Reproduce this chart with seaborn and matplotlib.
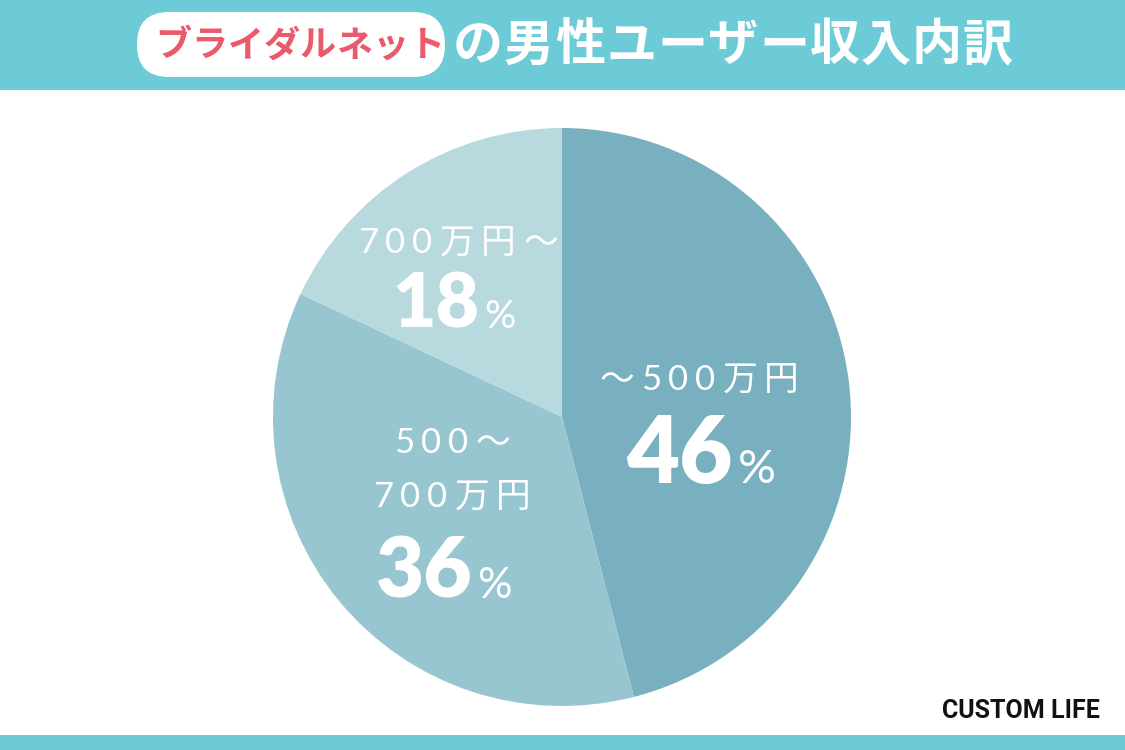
import matplotlib
matplotlib.use("Agg")
import matplotlib.pyplot as plt
import seaborn as sns
from matplotlib.patches import Rectangle, FancyBboxPatch

# ---- data ----
categories = ["～500万円", "500～\n700万円", "700万円～"]
values = [46, 36, 18]
colors = ["#78B0BF", "#97C5D0", "#B8DADF"]
brand = "ブライダルネット"
title_rest = "の男性ユーザー収入内訳"
credit = "CUSTOM LIFE"

sns.set_theme(style="white")
plt.rcParams["font.family"] = ["Noto Sans CJK JP", "DejaVu Sans"]

W, H = 1125, 750
fig = plt.figure(figsize=(11.25, 7.5), dpi=100)
fig.patch.set_facecolor("white")
ax = fig.add_axes([0, 0, 1, 1])
ax.set_xlim(0, W)
ax.set_ylim(0, H)
renderer = fig.canvas.get_renderer()

def Y(y):
    return H - y

def tracked(s, xc, y, track, **kw):
    """Draw string s centred at xc with extra letter spacing (pixels)."""
    widths = []
    tmp = []
    for ch in s:
        t = ax.text(0, 0, ch, **kw)
        widths.append(t.get_window_extent(renderer).width)
        tmp.append(t)
    for t in tmp:
        t.remove()
    total = sum(widths) + track * (len(s) - 1)
    x = xc - total / 2
    for ch, w in zip(s, widths):
        ax.text(x, y, ch, ha="left", **kw)
        x += w + track

band = "#6DCBD7"
ax.add_patch(Rectangle((0, Y(90)), W, 90, color=band, lw=0, zorder=1))
ax.add_patch(Rectangle((0, 0), W, 15, color=band, lw=0, zorder=1))

# pill with brand name
ax.add_patch(FancyBboxPatch((137, Y(77)), 308, 65,
                            boxstyle="round,pad=0,rounding_size=32",
                            fc="white", ec="none", zorder=2))
tracked(brand, 300, Y(46), 0, color="#EA5A6A", fontsize=26, fontweight="bold",
        va="center", zorder=3)
tracked(title_rest, 733, Y(46), 1, color="white", fontsize=36, fontweight="bold",
        va="center", zorder=3)

# pie
ax.pie(values, colors=colors, startangle=90, counterclock=False,
       center=(562, Y(417)), radius=289, wedgeprops=dict(linewidth=0))

lab_font = ["Lato", "Noto Sans CJK JP"]
num_font = ["Lato", "DejaVu Sans"]

def label(lines, xc, ys, num, xn, yn, nsize, psize):
    for line, y in zip(lines, ys):
        tracked(line, xc, Y(y), 7, color="white", fontsize=25, family=lab_font,
                va="center", zorder=4)
    ax.text(xn, Y(yn), str(num), color="white", fontsize=nsize, family=num_font,
            fontweight="heavy", ha="right", va="baseline", zorder=4)
    ax.text(xn + 5, Y(yn), "%", color="white", fontsize=psize, family=num_font,
            ha="left", va="baseline", zorder=4)

label(categories[0].split("\n"), 699, [380], values[0], 733, 483, 66, 34)
label(categories[1].split("\n"), 452, [443, 497], values[1], 472, 598, 60, 31)
label(categories[2].split("\n"), 458, [243], values[2], 479, 328, 54, 28)

ax.text(1100, Y(711), credit, color="#111111", fontsize=18, fontweight="bold",
        family=["Liberation Sans Narrow", "Roboto", "DejaVu Sans"],
        ha="right", va="center", zorder=4)

ax.set_xlim(0, W)
ax.set_ylim(0, H)
ax.set_aspect("equal")
ax.axis("off")
fig.savefig("out.png", dpi=100)
